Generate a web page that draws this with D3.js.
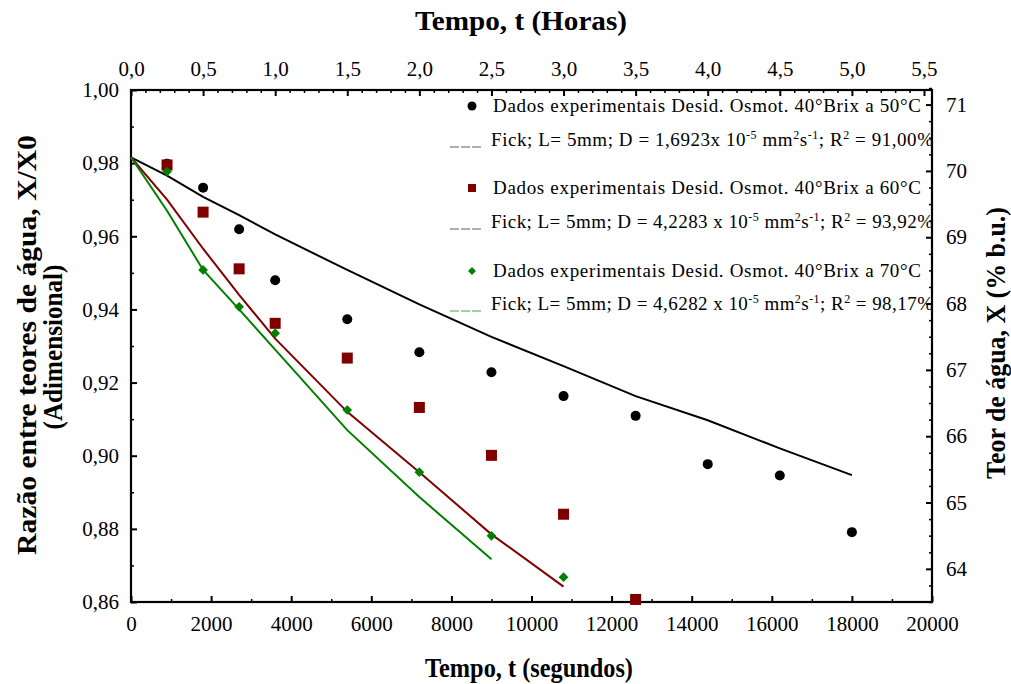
<!DOCTYPE html>
<html>
<head>
<meta charset="utf-8">
<script src="https://cdn.jsdelivr.net/npm/d3@7"></script>
<style>
  body { margin: 0; background: #fff; }
  svg { font-family: "Liberation Serif", "DejaVu Serif", serif; }
</style>
</head>
<body>
<svg id="chart" width="1011" height="684"></svg>
<script>
// tempos dos pontos experimentais (s)
const tempos = [900, 1800, 2700, 3600, 5400, 7200, 9000, 10800, 12600, 14400, 16200, 18000];
const dados50 = [0.9798, 0.9733, 0.9619, 0.9480, 0.9373, 0.9283, 0.9228, 0.9163, 0.9109, 0.8977, 0.8946, 0.8791];
const dados60 = [0.9795, 0.9666, 0.9511, 0.9362, 0.9267, 0.9132, 0.9001, 0.8840, 0.8607];
const dados70 = [0.9777, 0.9508, 0.9407, 0.9335, 0.9125, 0.8955, 0.8781, 0.8668];

// curvas do modelo de Fick
const temposFick = [0, 900, 1800, 2700, 3600, 5400, 7200, 9000, 10800, 12600, 14400, 16200, 18000];
const fick50 = [0.9816, 0.9766, 0.9708, 0.9658, 0.9605, 0.9508, 0.9414, 0.9325, 0.9245, 0.9163, 0.9097, 0.9020, 0.8947];
const fick60 = [0.9816, 0.9700, 0.9566, 0.9440, 0.9320, 0.9120, 0.8955, 0.8785, 0.8642];
const fick70 = [0.9816, 0.9670, 0.9508, 0.9400, 0.9290, 0.9070, 0.8887, 0.8717];

const ticksSeg = [0, 2000, 4000, 6000, 8000, 10000, 12000, 14000, 16000, 18000, 20000];
const ticksHoras = [0, 0.5, 1, 1.5, 2, 2.5, 3, 3.5, 4, 4.5, 5, 5.5];
const ticksRazao = [0.86, 0.88, 0.90, 0.92, 0.94, 0.96, 0.98, 1.00];
const ticksTeor = [64, 65, 66, 67, 68, 69, 70, 71];

const legenda = [
  { tipo: "circle", cor: "#000", texto: "Dados experimentais Desid. Osmot. 40°Brix a 50°C" },
  { tipo: "line", cor: "#9a9a9a", D: "1,6923x 10", R: "91,00%" },
  { tipo: "square", cor: "#800000", texto: "Dados experimentais Desid. Osmot. 40°Brix a 60°C" },
  { tipo: "line", cor: "#9a9a9a", D: "4,2283 x 10", R: "93,92%" },
  { tipo: "diamond", cor: "#008000", texto: "Dados experimentais Desid. Osmot. 40°Brix a 70°C" },
  { tipo: "line", cor: "#7fcf7f", D: "4,6282 x 10", R: "98,17%" }
];

const svg = d3.select("#chart");
const pLeft = 131, pRight = 932, pTop = 90, pBottom = 602;

const x = d3.scaleLinear().domain([0, 20000]).range([pLeft, pRight]);
const xh = d3.scaleLinear().domain([0, 20000 / 3600]).range([pLeft, pRight]);
const y = d3.scaleLinear().domain([0.86, 1.0]).range([pBottom, pTop]);
const y2 = d3.scaleLinear().domain([63.5, 71.22]).range([pBottom, pTop]);

const virgula = f => v => d3.format(f)(v).replace(".", ",");

function eixo(axis, transform, fmt, vals, minors, pad) {
  const g = svg.append("g").attr("transform", transform)
    .call(axis.tickValues(vals).tickSizeInner(-6).tickSizeOuter(0).tickPadding(pad).tickFormat(fmt));
  g.select(".domain").remove();
  g.selectAll("text").attr("font-size", 21).attr("fill", "#000").attr("font-family", "Liberation Serif");
  g.selectAll("line").attr("stroke-width", 2);
  const m = svg.append("g").attr("transform", transform)
    .call(axis.tickValues(minors).tickSizeInner(-3).tickFormat(""));
  m.select(".domain").remove();
  m.selectAll("line").attr("stroke-width", 1.5);
  return g;
}

eixo(d3.axisBottom(x), `translate(0,${pBottom})`, d => d, ticksSeg, d3.range(1000, 20000, 2000), 14);
eixo(d3.axisTop(xh), `translate(0,${pTop})`, virgula(".1f"), ticksHoras,
  d3.range(0.1, 5.56, 0.1).filter(v => Math.abs(v * 2 - Math.round(v * 2)) > 0.01), 14);
eixo(d3.axisLeft(y), `translate(${pLeft},0)`, virgula(".2f"), ticksRazao, d3.range(0.87, 1.0, 0.02), 12);
eixo(d3.axisRight(y2), `translate(${pRight},0)`, d => d, ticksTeor,
  d3.range(63.5, 71.3, 0.25).filter(v => v % 1 !== 0), 14);

svg.append("rect").attr("x", pLeft).attr("y", pTop)
  .attr("width", pRight - pLeft).attr("height", pBottom - pTop)
  .attr("fill", "none").attr("stroke", "#000").attr("stroke-width", 2.2);

// curvas de Fick
const linha = d3.line().x(d => x(d[0])).y(d => y(d[1]));
[[fick50, "#000"], [fick60, "#800000"], [fick70, "#008000"]].forEach(([serie, cor]) => {
  svg.append("path").datum(serie.map((v, i) => [temposFick[i], v]))
    .attr("d", linha).attr("fill", "none").attr("stroke", cor).attr("stroke-width", 2);
});

// pontos experimentais
svg.selectAll(".p50").data(dados50).enter().append("circle")
  .attr("cx", (d, i) => x(tempos[i])).attr("cy", d => y(d)).attr("r", 5).attr("fill", "#000");
svg.selectAll(".p60").data(dados60).enter().append("rect")
  .attr("x", (d, i) => x(tempos[i]) - 5.5).attr("y", d => y(d) - 5.5)
  .attr("width", 11).attr("height", 11).attr("fill", "#800000");
const losango = d3.symbol().type(d3.symbolDiamond2).size(60);
svg.selectAll(".p70").data(dados70).enter().append("path")
  .attr("d", losango).attr("fill", "#008000")
  .attr("transform", (d, i) => `translate(${x(tempos[i])},${y(d)})`);

// legenda
const legY = [112, 146, 194, 228, 277, 310];
legenda.forEach((item, i) => {
  const yy = legY[i];
  if (item.tipo === "circle") {
    svg.append("circle").attr("cx", 472).attr("cy", yy - 6).attr("r", 4.5).attr("fill", item.cor);
  } else if (item.tipo === "square") {
    svg.append("rect").attr("x", 468).attr("y", yy - 10).attr("width", 8).attr("height", 8).attr("fill", item.cor);
  } else if (item.tipo === "diamond") {
    svg.append("path").attr("d", d3.symbol().type(d3.symbolDiamond2).size(40))
      .attr("transform", `translate(472,${yy - 6})`).attr("fill", item.cor);
  }
  if (item.tipo === "line") {
    [0, 11, 22].forEach(dx => {
      svg.append("line").attr("x1", 450 + dx).attr("x2", 459 + dx)
        .attr("y1", yy + 1).attr("y2", yy + 1)
        .attr("stroke", item.cor).attr("stroke-width", 1.6);
    });
    const t = svg.append("text").attr("x", 491).attr("y", yy).attr("font-size", 19)
      .attr("textLength", 442).attr("lengthAdjust", "spacing");
    t.append("tspan").text(`Fick; L= 5mm; D = ${item.D}`);
    t.append("tspan").attr("font-size", 12).attr("dy", -7).text("-5");
    t.append("tspan").attr("dy", 7).text(" mm");
    t.append("tspan").attr("font-size", 12).attr("dy", -7).text("2");
    t.append("tspan").attr("dy", 7).text("s");
    t.append("tspan").attr("font-size", 12).attr("dy", -7).text("-1");
    t.append("tspan").attr("dy", 7).text("; R");
    t.append("tspan").attr("font-size", 12).attr("dy", -7).text("2");
    t.append("tspan").attr("dy", 7).text(" = " + item.R);
  } else {
    svg.append("text").attr("x", 493).attr("y", yy).attr("font-size", 19)
      .attr("textLength", 428).attr("lengthAdjust", "spacing").text(item.texto);
  }
});

// títulos dos eixos: fonte alta e comprimida até a largura do original
function titulo(texto, cx, cy, rot, largura) {
  const t = svg.append("text").attr("text-anchor", "middle").attr("dominant-baseline", "central")
    .attr("font-size", 27).attr("font-weight", "bold").text(texto);
  const k = largura / t.node().getComputedTextLength();
  t.attr("transform", `translate(${cx},${cy}) rotate(${rot}) scale(${k},1)`);
}
titulo("Tempo, t (Horas)", 521, 21, 0, 212);
titulo("Tempo, t (segundos)", 529, 668, 0, 208);
titulo("Razão entre teores de água, X/X0", 27, 345, -90, 420);
titulo("(Adimensional)", 53, 347, -90, 165);
titulo("Teor de água, X (% b.u.)", 996, 343, -90, 272);
</script>
</body>
</html>
